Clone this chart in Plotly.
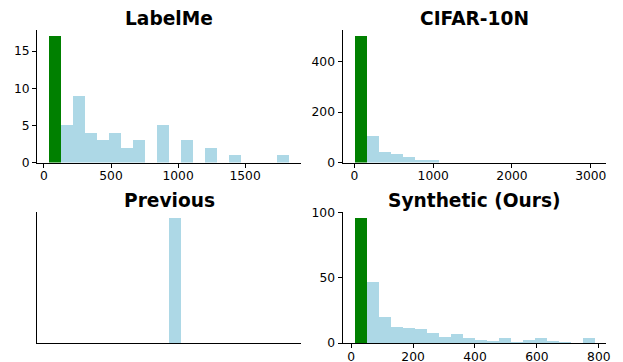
import numpy as np
import plotly.graph_objects as go

# ---- data (histogram counts, 20 bins each) ----
labelme_counts = [17, 5, 9, 4, 3, 4, 2, 3, 0, 5, 0, 3, 0, 2, 0, 1, 0, 0, 0, 1]
labelme_range = [37.5, 1827.5]

cifar_counts = [500, 106, 42, 34, 22, 10, 10, 0, 0, 0, 0, 0, 0, 0, 0, 0, 0, 0, 0, 0]
cifar_range = [1, 3041]

synthetic_counts = [96, 47, 20, 13, 12, 11, 8, 5, 7, 4, 3, 2, 4, 1, 3, 4, 2, 1, 0, 4]
synthetic_range = [10.7, 784.6]

previous_value = 0.0
previous_count = 100
previous_bins = 20

titles = ["LabelMe", "CIFAR-10N", "Previous", "Synthetic (Ours)"]
labelme_ticks = [0, 500, 1000, 1500]
cifar_ticks = [0, 1000, 2000, 3000]
synthetic_ticks = [0, 200, 400, 600, 800]
labelme_yticks = [0, 5, 10, 15]
cifar_yticks = [0, 200, 400]
synthetic_yticks = [0, 50, 100]

GREEN = "green"
BLUE = "lightblue"

W, H = 623, 362
OFF = 8  # the html body adds an 8px margin around the figure


def xd(a, b):
    return [(a - OFF) / W, (b - OFF) / W]


def yd(top, bottom):
    return [(H - (bottom - OFF)) / H, (H - (top - OFF)) / H]


xdom_l = xd(37, 301)
xdom_r = xd(342.5, 606)
ydom_t = yd(30, 162.5)
ydom_b = yd(211.5, 343)

fig = go.Figure()


def hist_trace(counts, lo, hi, axis_idx):
    n = len(counts)
    edges = np.linspace(lo, hi, n + 1)
    centers = (edges[:-1] + edges[1:]) / 2
    width = edges[1] - edges[0]
    colors = [GREEN] + [BLUE] * (n - 1)
    sfx = "" if axis_idx == 1 else str(axis_idx)
    fig.add_trace(go.Bar(x=centers, y=counts, width=[width] * n,
                         marker=dict(color=colors, line=dict(width=0)),
                         xaxis="x" + sfx, yaxis="y" + sfx, showlegend=False))
    span = hi - lo
    return [lo - 0.05 * span, hi + 0.05 * span], [0, 1.05 * max(counts)]


xr1, yr1 = hist_trace(labelme_counts, *labelme_range, 1)
xr2, yr2 = hist_trace(cifar_counts, *cifar_range, 2)

# Previous: all values identical -> matplotlib range [v-0.5, v+0.5]
prev_counts = [0] * previous_bins
prev_counts[previous_bins // 2] = previous_count
p_edges = np.linspace(previous_value - 0.5, previous_value + 0.5, previous_bins + 1)
fig.add_trace(go.Bar(x=(p_edges[:-1] + p_edges[1:]) / 2, y=prev_counts,
                     width=[p_edges[1] - p_edges[0]] * previous_bins,
                     marker=dict(color=BLUE, line=dict(width=0)),
                     xaxis="x3", yaxis="y3", showlegend=False))
xr3 = [previous_value - 0.55, previous_value + 0.55]
yr3 = [0, 1.05 * previous_count]

xr4, yr4 = hist_trace(synthetic_counts, *synthetic_range, 4)

tickfont = dict(family="DejaVu Sans", size=12.3, color="black")
base = dict(showline=True, linecolor="black", linewidth=1, showgrid=False,
            zeroline=False, ticks="outside", ticklen=4, tickwidth=1,
            tickcolor="black", tickfont=tickfont, fixedrange=True,
            automargin=False)
xbase = dict(base, ticklabelstandoff=-2)

fig.update_layout(
    width=W, height=H, margin=dict(l=0, r=0, t=0, b=0),
    paper_bgcolor="white", plot_bgcolor="white", bargap=0,
    xaxis=dict(xbase, domain=xdom_l, anchor="y", range=xr1, tickvals=labelme_ticks),
    yaxis=dict(base, domain=ydom_t, anchor="x", range=yr1, tickvals=labelme_yticks),
    xaxis2=dict(xbase, domain=xdom_r, anchor="y2", range=xr2, tickvals=cifar_ticks),
    yaxis2=dict(base, domain=ydom_t, anchor="x2", range=yr2, tickvals=cifar_yticks),
    xaxis3=dict(xbase, domain=xdom_l, anchor="y3", range=xr3, ticks="", showticklabels=False),
    yaxis3=dict(base, domain=ydom_b, anchor="x3", range=yr3, ticks="", showticklabels=False),
    xaxis4=dict(xbase, domain=xdom_r, anchor="y4", range=xr4, tickvals=synthetic_ticks),
    yaxis4=dict(base, domain=ydom_b, anchor="x4", range=yr4, tickvals=synthetic_yticks),
)

title_font = dict(family="DejaVu Sans", size=18.6, color="black")
for t, xdm, ydm in zip(titles, [xdom_l, xdom_r, xdom_l, xdom_r], [ydom_t, ydom_t, ydom_b, ydom_b]):
    fig.add_annotation(text="<b>" + t + "</b>", x=(xdm[0] + xdm[1]) / 2, y=ydm[1],
                       xref="paper", yref="paper", xanchor="center", yanchor="bottom",
                       showarrow=False, font=title_font, yshift=-1)

fig.write_html("out.html")
